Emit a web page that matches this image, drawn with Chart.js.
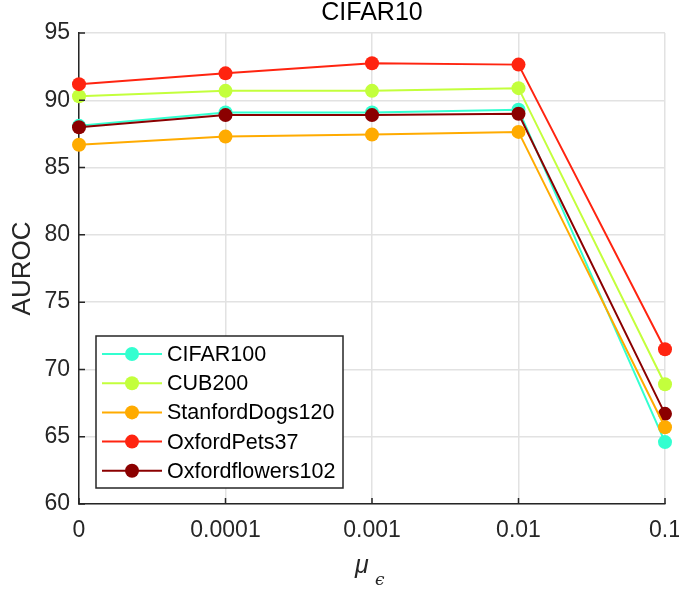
<!DOCTYPE html>
<html>
<head>
<meta charset="utf-8">
<script src="https://cdn.jsdelivr.net/npm/chart.js@4/dist/chart.umd.min.js"></script>
<style>
  html, body { margin: 0; padding: 0; background: #fff; }
  #wrap { width: 679px; height: 590px; position: relative; }
</style>
</head>
<body>
<div id="wrap"><canvas id="myChart"></canvas></div>
<script>
// data
const muLabels = ["0", "0.0001", "0.001", "0.01", "0.1"];
const cifar100 = [88.1, 89.1, 89.1, 89.3, 64.6];
const cub200 = [90.3, 90.7, 90.7, 90.9, 68.9];
const stanfordDogs120 = [86.7, 87.3, 87.45, 87.65, 65.7];
const oxfordPets37 = [91.2, 92.0, 92.75, 92.65, 71.5];
const oxfordflowers102 = [88.0, 88.9, 88.9, 89.0, 66.7];
const yTicks = [60, 65, 70, 75, 80, 85, 90, 95];

const axisColor = "#262626";
const gridColor = "#e2e2e2";
const fontName = "'Liberation Sans', Arial, Helvetica, sans-serif";

function series(label, data, color, order) {
  return {
    label: label,
    data: data,
    borderColor: color,
    backgroundColor: color,
    pointBackgroundColor: color,
    pointBorderColor: color,
    pointRadius: 7,
    pointHoverRadius: 7,
    pointBorderWidth: 0,
    borderWidth: 2,
    fill: false,
    tension: 0,
    order: order,
  };
}

// matlab style inward ticks, legend box and x label
const extras = {
  id: "extras",
  afterDraw(chart) {
    const ctx = chart.ctx;
    const a = chart.chartArea;
    const xs = chart.scales.x;
    const ys = chart.scales.y;
    ctx.save();
    ctx.strokeStyle = axisColor;
    ctx.lineWidth = 1.5;
    ctx.beginPath();
    xs.ticks.forEach((t, i) => {
      const px = xs.getPixelForTick(i);
      ctx.moveTo(px, a.bottom);
      ctx.lineTo(px, a.bottom - 6);
    });
    ys.ticks.forEach((t, i) => {
      const py = ys.getPixelForTick(i);
      ctx.moveTo(a.left, py);
      ctx.lineTo(a.left + 6, py);
    });
    ctx.stroke();

    // legend
    const lx = 96, ly = 336, lw = 247, lh = 152;
    ctx.fillStyle = "#fff";
    ctx.fillRect(lx, ly, lw, lh);
    ctx.strokeStyle = axisColor;
    ctx.lineWidth = 1.5;
    ctx.strokeRect(lx, ly, lw, lh);
    ctx.font = "21.5px " + fontName;
    ctx.textBaseline = "middle";
    ctx.textAlign = "left";
    chart.data.datasets.forEach((ds, i) => {
      const y = 354 + i * 29.2;
      ctx.strokeStyle = ds.borderColor;
      ctx.lineWidth = 2;
      ctx.beginPath();
      ctx.moveTo(102, y);
      ctx.lineTo(162, y);
      ctx.stroke();
      ctx.fillStyle = ds.borderColor;
      ctx.beginPath();
      ctx.arc(132, y, 7, 0, Math.PI * 2);
      ctx.fill();
      ctx.fillStyle = "#000";
      ctx.fillText(ds.label, 167, y + 1);
    });

    // x axis label: mu with subscript epsilon
    ctx.fillStyle = axisColor;
    ctx.textBaseline = "alphabetic";
    ctx.font = "italic 25px " + fontName;
    ctx.fillText("\u03bc", 355, 573);
    ctx.font = "italic 17px 'DejaVu Serif', serif";
    ctx.fillText("\u03f5", 375, 585);
    ctx.restore();
  },
};

const ctx = document.getElementById("myChart");
const myLineChart = new Chart(ctx, {
  type: "line",
  data: {
    labels: muLabels,
    datasets: [
      series("CIFAR100", cifar100, "#33ffd0", 4),
      series("CUB200", cub200, "#c3ff3c", 3),
      series("StanfordDogs120", stanfordDogs120, "#ffab00", 1),
      series("OxfordPets37", oxfordPets37, "#ff2410", 0),
      series("Oxfordflowers102", oxfordflowers102, "#8b0000", 2),
    ],
  },
  options: {
    responsive: true,
    maintainAspectRatio: false,
    animation: false,
    events: [],
    layout: { padding: { top: 0, right: 14, left: 0, bottom: 0 } },
    plugins: {
      legend: { display: false },
      tooltip: { enabled: false },
      title: {
        display: true,
        text: "CIFAR10",
        fullSize: false,
        color: "#000",
        font: { family: fontName, size: 25, weight: "normal", lineHeight: 1.0 },
        padding: { top: 1, bottom: 7 },
      },
    },
    scales: {
      x: {
        type: "category",
        offset: false,
        grid: { color: gridColor, lineWidth: 1.5, drawTicks: false },
        border: { display: true, color: axisColor, width: 1.5 },
        ticks: {
          color: axisColor,
          padding: 13,
          maxRotation: 0,
          autoSkip: false,
          font: { family: fontName, size: 23 },
        },
        afterFit(scale) {
          scale.height = 86;
          scale.paddingLeft = 0;
          scale.paddingRight = 0;
        },
      },
      y: {
        min: 60,
        max: 95,
        afterBuildTicks(scale) { scale.ticks = yTicks.map(v => ({ value: v })); },
        grid: { color: gridColor, lineWidth: 1.5, drawTicks: false },
        border: { display: true, color: axisColor, width: 1.5 },
        ticks: {
          color: axisColor,
          padding: 9,
          font: { family: fontName, size: 23 },
        },
        title: {
          display: true,
          text: "AUROC",
          color: axisColor,
          font: { family: fontName, size: 26 },
          padding: { top: 7, bottom: 0 },
        },
        afterFit(scale) {
          scale.width = 79;
          scale.paddingTop = 0;
          scale.paddingBottom = 0;
        },
      },
    },
  },
  plugins: [extras],
});
</script>
</body>
</html>
